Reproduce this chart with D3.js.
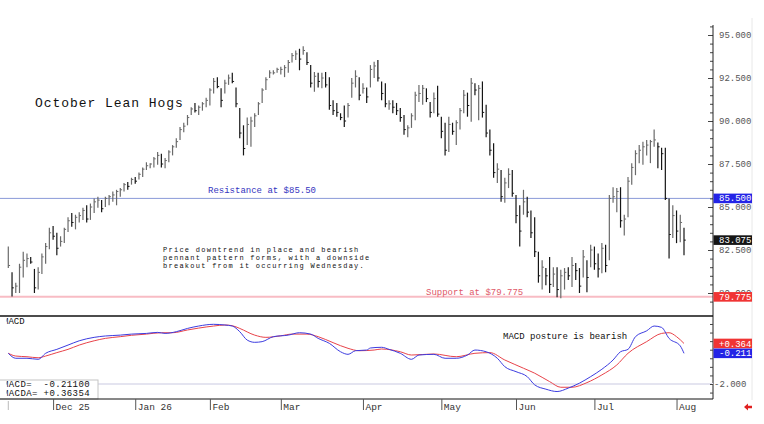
<!DOCTYPE html>
<html>
<head>
<meta charset="utf-8">
<script src="https://cdn.jsdelivr.net/npm/d3@7"></script>
<style>
  body { margin: 0; background: #fff; }
  svg text { font-family: "Liberation Mono", "DejaVu Sans Mono", monospace; }
</style>
</head>
<body>
<svg id="chart"></svg>
<script>
// daily bars, oldest first (mid Nov 2025 -> Aug 5 2026)
let highs = [
  82.7, 81.2, 80.6, 81.7, 82.4, 82.3, 82.1, 81.4, 81.5, 82.3,
  82.9, 83.8, 83.9, 83.5, 83.3, 83.8, 84.4, 84.65, 84.55, 84.7,
  84.95, 85.1, 85.2, 85.5, 85.6, 85.4, 85.6, 85.7, 85.9, 86.0,
  86.1, 86.4, 86.45, 86.7, 86.75, 87.0, 87.3, 87.6, 87.55, 87.9,
  88.2, 88.1, 87.85, 88.3, 88.6, 89.0, 89.65, 89.9,
  90.35, 90.8, 91.05, 90.9, 91.1, 91.35, 91.9, 92.5, 92.55, 91.9,
  92.4, 92.7, 92.8, 91.95, 90.75, 89.75, 90.2, 90.25, 90.45, 91.1,
  91.9, 92.55, 92.95, 92.95, 93.1, 93.15, 93.25, 93.55, 93.95, 94.1,
  94.2, 94.35, 94.0, 93.25, 92.85, 92.8, 92.8, 92.85, 92.55, 91.2,
  91.05, 90.45, 90.9, 91.05, 92.5, 92.95, 92.55, 92.2, 91.95, 93.25,
  93.45, 93.55, 92.3, 92.2, 91.2, 91.2, 91.05, 90.75, 90.35, 89.75,
  90.45, 91.7, 92.1, 92.1, 91.9, 91.1, 91.65, 92.05, 90.25, 89.9,
  90.25, 89.9, 90.05, 90.75, 91.8, 91.65, 92.5, 92.2, 92.1, 92.3,
  90.95, 89.5, 88.7, 87.55, 87.15, 86.7, 87.25, 87.15, 85.7, 85.1,
  86.0, 85.6, 84.8, 84.4, 82.4, 81.9, 81.45, 82.1, 81.5, 81.5,
  81.35, 81.45, 81.5, 82.1, 81.75, 81.45, 82.5, 81.9, 82.8, 82.7,
  82.3, 82.9, 82.8, 85.7, 86.15, 86.1, 86.15, 84.55, 86.75, 87.55,
  88.3, 88.6, 88.8, 88.9, 88.9, 89.5, 88.75, 88.45, 88.45, 85.5,
  85.1, 84.8, 84.55, 83.8
];
let lows = [
  81.45, 79.8, 80.0, 80.0, 80.9, 81.5, 81.7, 80.0, 80.2, 81.1,
  81.7, 82.55, 83.1, 82.2, 82.7, 82.9, 83.55, 83.85, 83.7, 84.1,
  84.25, 84.1, 84.25, 84.65, 84.95, 84.7, 85.0, 85.1, 85.3, 85.1,
  85.6, 85.9, 86.0, 86.3, 86.35, 86.6, 86.75, 87.15, 87.25, 87.3,
  87.45, 87.3, 87.25, 87.6, 88.0, 88.45, 88.9, 89.35,
  89.75, 90.35, 90.5, 90.35, 90.6, 90.8, 90.9, 91.6, 91.9, 90.8,
  91.6, 92.1, 92.2, 90.8, 89.0, 88.0, 88.6, 88.5, 89.65, 90.35,
  91.05, 91.8, 92.5, 92.7, 92.8, 92.7, 92.55, 92.8, 93.4, 93.55,
  92.95, 93.85, 93.25, 91.95, 91.7, 91.95, 91.9, 91.95, 90.65, 90.35,
  90.25, 90.05, 89.65, 90.2, 91.35, 91.95, 91.2, 91.6, 91.05, 91.95,
  92.5, 92.3, 91.2, 90.8, 90.65, 90.45, 90.35, 89.95, 89.2, 89.05,
  89.6, 90.05, 91.1, 90.95, 91.1, 90.2, 90.45, 90.25, 89.0, 88.0,
  88.2, 89.2, 88.6, 89.5, 90.45, 90.25, 89.95, 91.5, 90.05, 90.2,
  89.05, 88.0, 86.7, 86.4, 85.3, 85.25, 86.1, 85.6, 84.05, 82.7,
  84.55, 84.4, 83.2, 82.1, 80.6, 80.2, 80.45, 80.0, 80.35, 79.75,
  79.7, 80.2, 80.75, 80.35, 80.75, 80.0, 80.9, 80.05, 81.5, 81.35,
  80.9, 81.15, 81.2, 81.9, 85.25, 84.7, 83.8, 83.35, 84.4, 86.3,
  86.85, 87.55, 87.45, 88.0, 87.55, 88.5, 87.25, 87.15, 85.4, 82.0,
  83.2, 82.9, 82.95, 82.2
];
let closes = [
  81.6, 80.3, 80.4, 81.5, 81.9, 82.0, 81.8, 80.3, 81.2, 82.1,
  82.7, 83.5, 83.3, 82.6, 83.0, 83.7, 84.2, 84.1, 84.4, 84.5,
  84.8, 84.3, 85.0, 85.3, 85.4, 84.9, 85.5, 85.6, 85.7, 85.9,
  86.0, 86.3, 86.2, 86.6, 86.5, 86.9, 87.2, 87.4, 87.5, 87.8,
  88.0, 87.5, 87.7, 88.2, 88.5, 88.8, 89.5, 89.7,
  90.2, 90.7, 90.6, 90.8, 91.0, 91.2, 91.8, 92.3, 92.0, 91.2,
  92.2, 92.5, 92.3, 91.0, 89.3, 88.4, 89.8, 90.0, 90.3, 91.0,
  91.8, 92.4, 92.8, 92.8, 93.0, 93.0, 93.1, 93.4, 93.8, 93.9,
  93.6, 94.1, 93.4, 92.2, 92.6, 92.3, 92.5, 92.1, 90.9, 90.6,
  90.5, 90.2, 90.0, 90.9, 92.2, 92.6, 91.5, 91.9, 91.4, 93.0,
  93.2, 92.5, 91.6, 91.0, 91.0, 90.8, 90.6, 90.2, 89.5, 89.6,
  90.3, 91.5, 91.6, 91.9, 91.3, 90.5, 91.3, 90.4, 89.4, 88.3,
  89.8, 89.4, 89.9, 90.6, 91.5, 90.9, 92.2, 91.8, 91.9, 90.5,
  89.3, 88.3, 87.0, 87.2, 85.6, 86.4, 86.9, 85.8, 84.5, 83.6,
  85.3, 84.7, 83.5, 82.4, 81.0, 81.5, 81.0, 80.5, 81.1, 80.2,
  81.0, 81.2, 81.0, 81.6, 81.3, 80.4, 82.1, 80.9, 82.5, 81.7,
  81.4, 82.6, 81.6, 85.5, 85.6, 85.9, 84.2, 84.3, 86.5, 87.3,
  88.1, 88.3, 88.5, 88.6, 88.8, 88.9, 88.5, 88.1, 85.5, 83.4,
  84.5, 83.6, 84.1, 83.075
];

// month starts (bar index) and their labels
let monthIdx = [12, 34, 54, 73, 95, 116, 136, 157, 179];
let monthLabels = ["Dec 25", "Jan 26", "Feb", "Mar", "Apr", "May", "Jun", "Jul", "Aug"];

let priceTicks = [80, 82.5, 85, 87.5, 90, 92.5, 95];
let resistance = 85.5;
let support = 79.775;
let lastPrice = 83.075;

// MACD (blue) and its average (red), read at these bars
let macdBar = [0, 2, 5, 8, 10, 13, 16, 19, 23, 26, 30, 33, 37, 40, 42, 45, 48, 51, 55, 58,
  60, 62, 64, 66, 68, 71, 75, 78, 81, 83, 86, 89, 91, 93, 96, 97, 100, 102, 105, 108,
  110, 114, 117, 120, 123, 125, 128, 131, 133, 136, 139, 141, 144, 147, 150, 153, 156, 159, 162, 164,
  166, 168, 171, 173, 175, 177, 180, 181];
let macdLine = [-0.21, -0.5, -0.5, -0.56, -0.21, 0.02, 0.27, 0.52, 0.72, 0.8, 0.85, 0.91, 0.95, 1.01, 0.95, 1.05, 1.24, 1.38, 1.48, 1.44,
  1.38, 1.05, 0.56, 0.43, 0.47, 0.76, 0.85, 0.99, 0.91, 0.66, 0.37, -0.12, -0.27, -0.06, -0.02, 0.1, 0.14, 0.02, -0.21, -0.56,
  -0.31, -0.27, -0.5, -0.5, -0.31, -0.02, -0.12, -0.5, -0.99, -1.28, -1.57, -2.05, -2.3, -2.44, -2.24, -1.95, -1.57, -1.14, -0.6, -0.12,
  0.02, 0.76, 1.1, 1.38, 1.3, 0.66, 0.22, -0.211];
let signalBar = [0, 2, 5, 8, 10, 13, 16, 19, 23, 26, 30, 33, 37, 41, 44, 48, 51, 55, 58, 60,
  62, 66, 69, 73, 76, 80, 83, 87, 91, 94, 98, 100, 105, 108, 114, 120, 125, 129, 133, 138,
  141, 145, 148, 151, 155, 159, 163, 166, 171, 175, 177, 179, 181];
let signalLine = [-0.21, -0.37, -0.41, -0.47, -0.37, -0.17, 0.02, 0.27, 0.52, 0.66, 0.76, 0.84, 0.91, 0.99, 0.99, 1.15, 1.26, 1.38, 1.44, 1.4,
  1.24, 0.85, 0.72, 0.81, 0.91, 0.91, 0.76, 0.41, 0.08, -0.06, -0.02, 0.04, -0.12, -0.31, -0.25, -0.41, -0.21, -0.17, -0.6, -1.08,
  -1.37, -1.86, -2.19, -2.19, -1.92, -1.47, -0.89, -0.21, 0.47, 0.95, 0.99, 0.76, 0.364];
let macdTicks = [-2];
// readout shown in the box, five decimals
let readMacd = -0.211;
let readSignal = 0.36354;

let width = 764;
let height = 424;
let axisX = 713;
let splitY = 316;
let bottomY = 399;

let blue = "#2424e6";
let red = "#f03434";

let svg = d3.select("#chart").attr("width", width).attr("height", height);

let xScale = d3.scaleLinear().domain([0, highs.length - 1]).range([8.3, 684]);
let yScale = d3.scaleLinear().domain([80, 95]).range([293, 35]);
let macdScale = d3.scaleLinear().domain([-2, 0]).range([384, 349.7]);

let hline = (y, x1, x2, color, w) => {
  svg.append("line")
    .attr("x1", x1).attr("x2", x2)
    .attr("y1", y).attr("y2", y)
    .attr("stroke", color).attr("stroke-width", w);
};

// faint right edge of the label column
svg.append("line")
  .attr("x1", 752).attr("x2", 752).attr("y1", 18).attr("y2", 400)
  .attr("stroke", "#e8e8e8");

// support / resistance
hline(yScale(support), 0, axisX, "#f8bcc4", 2);
hline(yScale(resistance), 0, axisX, "#8a9ad8", 1);

// price bars
let bars = svg.append("g");
highs.forEach((h, i) => {
  let down = i > 0 && closes[i] < closes[i - 1];
  let col = down ? "#151515" : "#6a6a6a";
  let x = xScale(i);
  bars.append("line")
    .attr("x1", x).attr("x2", x)
    .attr("y1", yScale(h)).attr("y2", yScale(lows[i]))
    .attr("stroke", col).attr("stroke-width", 1.2);
  bars.append("line")
    .attr("x1", x).attr("x2", x + 1.8)
    .attr("y1", yScale(closes[i])).attr("y2", yScale(closes[i]))
    .attr("stroke", col).attr("stroke-width", 1);
});

// texts in the price panel
svg.append("text")
  .attr("x", 35).attr("y", 106.5)
  .attr("font-size", 13).attr("letter-spacing", 0.95)
  .attr("fill", "#111")
  .text("October Lean Hogs");

svg.append("text")
  .attr("x", 208).attr("y", 193)
  .attr("font-size", 9).attr("fill", "#3434c0")
  .text("Resistance at $85.50");

svg.append("text")
  .attr("x", 426).attr("y", 295)
  .attr("font-size", 9).attr("fill", "#e05868")
  .text("Support at $79.775");

let note = [
  "Price downtrend in place and bearish",
  "pennant pattern forms, with a downside",
  "breakout from it occurring Wednesday."
];
svg.append("g").selectAll("text")
  .data(note)
  .enter()
  .append("text")
  .attr("x", 163)
  .attr("y", (d, i) => 251.5 + i * 8)
  .attr("font-size", 7).attr("letter-spacing", 1.26)
  .attr("fill", "#111")
  .text((d) => d);

// right price axis
let axisStyle = (g) => {
  g.select(".domain").remove();
  g.selectAll("line").attr("stroke", "#444");
  g.selectAll("text")
    .attr("font-family", "Liberation Mono, monospace")
    .attr("font-size", 9)
    .attr("fill", "#555");
};

svg.append("g")
  .attr("transform", "translate(" + axisX + ",0)")
  .call(d3.axisRight(yScale).tickValues(d3.range(79.5, 95.6, 0.5)).tickSizeInner(-3).tickSizeOuter(0).tickFormat(""))
  .call(axisStyle);

svg.append("g")
  .attr("transform", "translate(" + axisX + ",0)")
  .call(d3.axisRight(yScale).tickValues(priceTicks).tickSizeInner(-5).tickSizeOuter(0).tickPadding(6).tickFormat(d3.format(".3f")))
  .call(axisStyle);

svg.append("line")
  .attr("x1", axisX).attr("x2", axisX).attr("y1", 25).attr("y2", bottomY)
  .attr("stroke", "#222");

// price flags on the axis
let flag = (y, label, color) => {
  svg.append("rect")
    .attr("x", axisX + 0.5).attr("y", y - 4.8)
    .attr("width", 38.5).attr("height", 9.6)
    .attr("fill", color);
  svg.append("text")
    .attr("x", axisX + 6).attr("y", y).attr("dy", "0.34em")
    .attr("font-size", 9).attr("fill", "#fff")
    .text(label);
};
flag(yScale(resistance), resistance.toFixed(3), blue);
flag(yScale(lastPrice), lastPrice.toFixed(3), "#151515");
flag(yScale(support), support.toFixed(3), red);

// panel separator
hline(splitY, 0, axisX, "#111", 1.5);

// MACD panel
hline(macdScale(-2), 0, axisX, "#e4e4f0", 2);

let line = d3.line()
  .x((d) => xScale(d[0]))
  .y((d) => macdScale(d[1]))
  .curve(d3.curveMonotoneX);

svg.append("path")
  .datum(signalBar.map((b, i) => [b, signalLine[i]]))
  .attr("d", line)
  .attr("fill", "none").attr("stroke", "#e8434a").attr("stroke-width", 1);

svg.append("path")
  .datum(macdBar.map((b, i) => [b, macdLine[i]]))
  .attr("d", line)
  .attr("fill", "none").attr("stroke", "#3c3ce0").attr("stroke-width", 1);

svg.append("g")
  .attr("transform", "translate(" + axisX + ",0)")
  .call(d3.axisRight(macdScale).tickValues(d3.range(-2.5, 2, 0.5)).tickSizeInner(-3).tickSizeOuter(0).tickFormat(""))
  .call(axisStyle);

svg.append("g")
  .attr("transform", "translate(" + axisX + ",0)")
  .call(d3.axisRight(macdScale).tickValues(macdTicks).tickSize(0).tickPadding(1).tickFormat((d) => d.toFixed(3)))
  .call(axisStyle);

let signed = (v, n) => (v >= 0 ? "+" : "-") + Math.abs(v).toFixed(n);
flag(macdScale(signalLine[signalLine.length - 1]), signed(signalLine[signalLine.length - 1], 3), red);
flag(macdScale(macdLine[macdLine.length - 1]), signed(macdLine[macdLine.length - 1], 3), blue);

svg.append("text")
  .attr("x", 503).attr("y", 339.3)
  .attr("font-size", 9).attr("fill", "#111")
  .text("MACD posture is bearish");

// readout box first, then the clipped texts on top of it
svg.append("rect")
  .attr("x", -1).attr("y", 380).attr("width", 99).attr("height", 19)
  .attr("fill", "#fff").attr("stroke", "#c4c4c4");

svg.append("clipPath").attr("id", "leftclip")
  .append("rect").attr("x", 6.5).attr("y", 300).attr("width", 200).attr("height", 120);

let readout = svg.append("g").attr("clip-path", "url(#leftclip)");
readout.append("text")
  .attr("x", 3).attr("y", 323.5)
  .attr("font-size", 9).attr("fill", "#111")
  .text("MACD");

let readLines = [
  "MACD=  " + signed(readMacd, 5),
  "MACDA= " + signed(readSignal, 5)
];
readout.selectAll(".rl")
  .data(readLines)
  .enter()
  .append("text")
  .attr("class", "rl")
  .attr("x", 3)
  .attr("y", (d, i) => 387.3 + i * 9)
  .attr("font-size", 9).attr("letter-spacing", 0.4)
  .attr("fill", "#111")
  .attr("xml:space", "preserve")
  .style("white-space", "pre")
  .text((d) => d);

// bottom date axis
hline(bottomY, 0, axisX, "#111", 1);

let xAxis = svg.append("g")
  .attr("transform", "translate(0," + bottomY + ")")
  .call(d3.axisBottom(xScale).tickValues(monthIdx).tickSizeInner(11).tickSizeOuter(0).tickFormat((d, i) => monthLabels[i]));
xAxis.select(".domain").remove();
xAxis.selectAll("line").attr("stroke", "#555");
xAxis.selectAll("text")
  .attr("text-anchor", "start")
  .attr("x", 2).attr("y", 4).attr("dy", "0.71em")
  .attr("font-family", "Liberation Sans, Arial, sans-serif")
  .attr("font-size", 9.5)
  .attr("fill", "#333");

svg.append("line")
  .attr("x1", xScale(0)).attr("x2", xScale(0)).attr("y1", bottomY + 2).attr("y2", bottomY + 11)
  .attr("stroke", "#bbb");

// little red arrow bottom right
svg.append("path")
  .attr("d", "M744,407 L748,403.5 L748,405.8 L752,405.8 L752,408.2 L748,408.2 L748,410.5 Z")
  .attr("fill", "#e02020");
</script>
</body>
</html>
